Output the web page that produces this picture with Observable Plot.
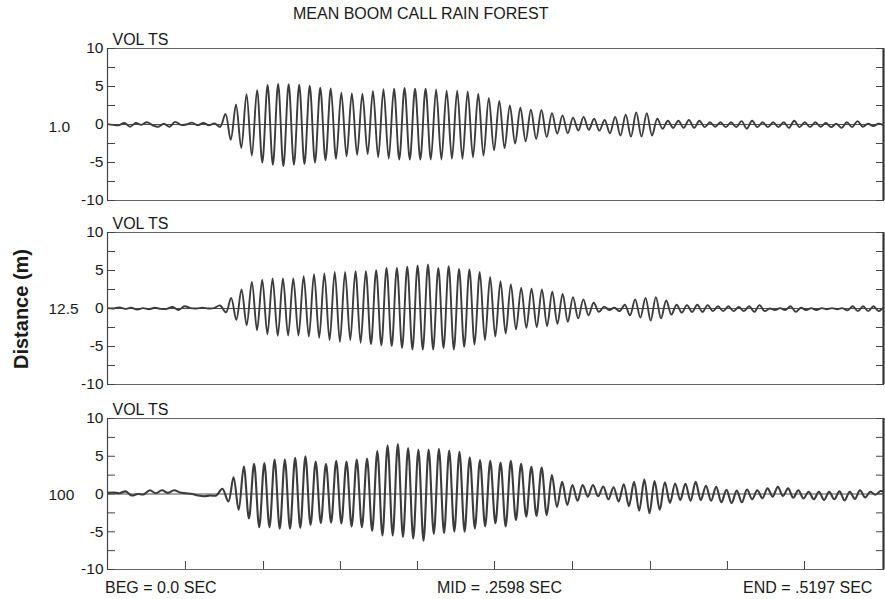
<!DOCTYPE html>
<html><head><meta charset="utf-8">
<script src="https://cdn.jsdelivr.net/npm/d3@7"></script>
<script src="https://cdn.jsdelivr.net/npm/@observablehq/plot@0.6"></script>
<style>
body{margin:0;background:#fff;}
#wrap{position:relative;width:885px;height:599px;font-family:"Liberation Sans",Arial,Helvetica,sans-serif;color:#1a1a1a;overflow:hidden;background:#fff;}
.t{position:absolute;white-space:nowrap;line-height:16px;font-size:16px;}
#wrap svg{position:absolute;left:0;max-width:none;}
</style></head><body><div id="wrap"></div>
<script>
// ---------- data ----------
const title = "MEAN BOOM CALL RAIN FOREST";
const panelLabel = "VOL TS";
const distances = ["1.0", "12.5", "100"];
const axisTitle = "Distance (m)";
const footLabels = ["BEG = 0.0 SEC", "MID = .2598 SEC", "END = .5197 SEC"];
const tDomain = [0, 0.5197];
const yDomain = [-10, 10];
const yLabelTicks = [-10, -5, 0, 5, 10];
const yMinorTicks = [-10, -7.5, -5, -2.5, 0, 2.5, 5, 7.5, 10];
const xTicks = [0.0522, 0.1045, 0.1560, 0.2076, 0.2592, 0.3114, 0.3637, 0.4152, 0.4668];

// first positive peak time (s) and cycle period (s) per panel
const firstPeak = [0.0790, 0.0828, 0.0844];
const period = [0.007054, 0.006938, 0.006878];

// pre-onset noise (V), evenly spread from 0 s to the onset
const noise1 = [0.05, -0.05, -0.1, 0.2, -0.3, 0.2, -0.05, 0.3, -0.1, -0.3, 0.1, -0.3, 0.35, -0.05, 0.0, 0.25, -0.1, 0.2, -0.1, 0.15, -0.3];
const noise2 = [0.05, 0.0, 0.15, -0.05, 0.1, -0.15, 0.05, -0.1, 0.1, -0.05, -0.05, 0.2, -0.2, 0.3, 0.05, 0.0, 0.1, 0.0, 0.05, 0.4, -0.5];
const noise3 = [0.15, 0.2, 0.1, 0.35, -0.2, 0.0, -0.05, 0.5, 0.1, 0.5, 0.15, 0.5, 0.2, 0.1, 0.0, -0.2, -0.3, -0.2, -0.2, 0.7, -1.0];

// positive peaks and following troughs of each cycle (V)
const peaks1 = [1.4, 2.6, 4.0, 4.5, 5.2, 5.35, 5.3, 5.25, 5.1, 4.85,
  4.75, 4.2, 4.1, 4.05, 4.4, 4.65, 4.7, 4.8, 4.7, 4.7,
  4.6, 4.45, 4.45, 4.35, 4.05, 3.5, 3.1, 2.5, 2.2, 1.95,
  1.9, 1.5, 1.2, 0.9, 1.0, 0.75, 0.6, 1.0, 1.3, 1.6,
  1.5, 0.75, 0.5, 0.5, 0.6, 0.5, 0.3, 0.3, 0.3, 0.45,
  0.5, 0.3, 0.3, 0.3, 0.5, 0.3, 0.3, 0.2, 0.1, 0.3,
  0.45, 0.1, 0.1];
const troughs1 = [-2.0, -3.1, -4.1, -5.0, -5.3, -5.5, -5.3, -5.2, -5.0, -4.7,
  -4.5, -4.2, -4.0, -3.9, -4.3, -4.5, -4.6, -4.6, -4.6, -4.6,
  -4.6, -4.5, -4.5, -4.3, -4.1, -3.4, -3.1, -2.5, -2.2, -1.9,
  -1.65, -1.2, -1.15, -0.8, -0.7, -0.8, -1.15, -1.45, -1.6, -1.6,
  -1.45, -0.55, -0.45, -0.45, -0.45, -0.35, -0.3, -0.35, -0.35, -0.55,
  -0.35, -0.35, -0.35, -0.45, -0.35, -0.35, -0.3, -0.35, -0.45, -0.35,
  -0.3, -0.2, -0.1];
const peaks2 = [1.4, 2.5, 3.5, 3.8, 3.95, 3.95, 3.95, 4.25, 4.5, 4.6,
  4.8, 4.8, 4.9, 4.9, 5.05, 5.35, 5.35, 5.5, 5.65, 5.8,
  5.35, 5.55, 5.2, 5.15, 4.8, 4.15, 3.6, 3.15, 2.7, 2.6,
  2.5, 2.2, 1.9, 1.5, 1.2, 0.75, 0.25, 0.1, 0.5, 1.2,
  1.4, 1.5, 1.05, 0.5, 0.45, 0.5, 0.45, 0.3, 0.3, 0.2,
  0.3, 0.45, 0.0, 0.05, 0.3, 0.1, 0.05, 0.05, 0.05, 0.05,
  0.3, 0.3, 0.3, 0.1];
const troughs2 = [-1.5, -2.2, -2.85, -3.4, -3.6, -3.55, -3.55, -3.7, -3.85, -4.15,
  -4.4, -4.15, -4.5, -4.7, -4.85, -4.95, -5.2, -5.4, -5.4, -5.4,
  -5.2, -5.4, -5.05, -4.75, -4.15, -3.7, -3.3, -2.75, -2.55, -2.45,
  -2.3, -2.0, -1.75, -1.3, -0.9, -0.45, -0.2, -0.35, -0.9, -1.2,
  -1.6, -1.3, -0.8, -0.55, -0.45, -0.45, -0.35, -0.35, -0.35, -0.35,
  -0.45, -0.35, -0.2, -0.2, -0.45, -0.2, -0.2, -0.1, -0.1, -0.25,
  -0.35, -0.35, -0.35, -0.2];
const peaks3 = [2.2, 3.65, 4.0, 4.1, 4.55, 4.55, 4.8, 5.0, 4.3, 4.0,
  4.4, 4.3, 4.55, 4.7, 5.7, 6.45, 6.6, 6.1, 5.9, 5.9,
  6.0, 5.75, 5.6, 4.85, 4.5, 4.4, 4.15, 4.4, 4.0, 3.6,
  3.5, 2.5, 1.6, 1.2, 1.2, 1.2, 1.0, 0.9, 1.3, 1.6,
  1.9, 1.7, 1.55, 1.4, 1.35, 1.6, 1.1, 0.95, 0.55, 0.45,
  0.6, 0.5, 0.75, 0.95, 0.75, 0.5, 0.3, 0.3, 0.3, 0.35,
  0.3, 0.5, 0.3, 0.4];
const troughs3 = [-2.1, -3.25, -4.4, -4.4, -4.6, -4.6, -4.5, -4.1, -3.85, -3.8,
  -3.9, -4.3, -4.4, -4.9, -5.5, -5.5, -5.7, -5.9, -6.2, -5.3,
  -5.2, -5.0, -5.0, -4.55, -4.3, -3.9, -4.3, -3.45, -3.0, -2.9,
  -2.8, -1.7, -1.45, -0.9, -0.35, -0.3, -0.7, -1.0, -1.6, -2.2,
  -2.55, -2.1, -1.2, -0.8, -0.9, -0.8, -0.9, -1.1, -1.2, -1.1,
  -0.7, -0.55, -0.35, -0.25, -0.5, -0.6, -0.7, -0.8, -0.7, -0.85,
  -0.65, -0.45, -0.1, 0.2];

// ---------- build series ----------
function wave(noise, first, per, peaks, troughs) {
  const pts = [];
  const tn = first - per / 2;
  noise.forEach((v, j) => pts.push({t: j * tn / (noise.length - 1), v}));
  peaks.forEach((p, i) => {
    pts.push({t: first + i * per, v: p});
    if (i < troughs.length) pts.push({t: first + (i + 0.5) * per, v: troughs[i]});
  });
  return pts;
}
const series = [
  wave(noise1, firstPeak[0], period[0], peaks1, troughs1),
  wave(noise2, firstPeak[1], period[1], peaks2, troughs2),
  wave(noise3, firstPeak[2], period[2], peaks3, troughs3)
];

// ---------- layout ----------
const wrap = document.getElementById("wrap");
const frameTops = [48, 232, 418];
const frameHeights = [152, 152, 151];
const mTop = 24, mBottom = 8;
const font = '"Liberation Sans", Arial, Helvetica, sans-serif';

series.forEach((data, i) => {
  const marks = [
    Plot.frame({stroke: "#666", strokeWidth: 1}),
    Plot.ruleY([0], {stroke: "#222", strokeWidth: 0.8}),
    Plot.line(data, {x: "t", y: "v", curve: "catmull-rom", stroke: "#3c3c3c", strokeWidth: i === 2 ? 2.1 : 1.9, clip: true}),
    Plot.ruleX([tDomain[0]], {stroke: "#444", strokeWidth: 1.2}),
    Plot.ruleX([tDomain[1]], {stroke: "#333", strokeWidth: 2.2}),
    Plot.axisY(yLabelTicks, {anchor: "left", tickSize: 0, tickPadding: 4, label: null, fontSize: 15.5, tickFormat: d => String(d)}),
    Plot.axisY(yMinorTicks, {anchor: "left", tickSize: -8, fill: "none", label: null, stroke: "#444"}),
    Plot.axisY(yMinorTicks, {anchor: "right", tickSize: -8, fill: "none", label: null, stroke: "#444"}),
    Plot.text([{lab: distances[i], y: 0}], {text: "lab", y: "y", frameAnchor: "left", dx: -59, dy: i === 0 ? 3 : 1, textAnchor: "start", fontSize: 15.5}),
    Plot.text([panelLabel], {text: d => d, frameAnchor: "top-left", dx: 5, dy: -4, textAnchor: "start", lineAnchor: "bottom", fontSize: 16})
  ];
  if (i === 2) marks.push(Plot.axisX(xTicks, {anchor: "bottom", tickSize: -8, fill: "none", label: null, stroke: "#444"}));
  const svg = Plot.plot({
    width: 885,
    height: frameHeights[i] + mTop + mBottom,
    marginLeft: 107, marginRight: 2, marginTop: mTop, marginBottom: mBottom,
    style: {fontFamily: font, fontSize: "15.5px", background: "transparent", color: "#1a1a1a"},
    x: {domain: tDomain, label: null, axis: null},
    y: {domain: yDomain, label: null, axis: null},
    marks
  });
  svg.style.top = (frameTops[i] - mTop) + "px";
  wrap.appendChild(svg);
});

function addText(txt, css) {
  const d = document.createElement("div");
  d.className = "t";
  d.textContent = txt;
  Object.assign(d.style, css);
  wrap.appendChild(d);
  return d;
}
addText(title, {left: "293px", top: "6px"});
addText(footLabels[0], {left: "105px", top: "579.5px"});
addText(footLabels[1], {left: "437px", top: "579.5px"});
addText(footLabels[2], {left: "743px", top: "579.5px"});
addText(axisTitle, {left: "21px", top: "309px", fontSize: "20px", lineHeight: "20px", fontWeight: "bold", transform: "translate(-50%,-50%) rotate(-90deg)"});
</script></body></html>
